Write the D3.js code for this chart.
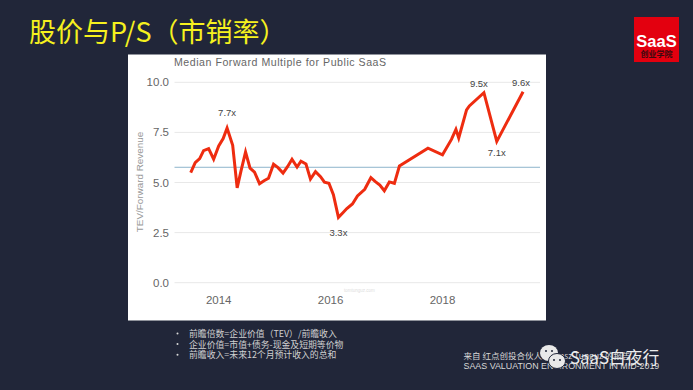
<!DOCTYPE html>
<html><head><meta charset="utf-8">
<script src="https://d3js.org/d3.v7.min.js"></script>
<style>html,body{margin:0;padding:0;background:#212639}svg{display:block}</style>
</head><body><svg id="c" width="693" height="390"></svg>
<script>
const years = [2013.50,2013.58,2013.66,2013.73,2013.82,2013.91,2014.00,2014.08,2014.15,2014.25,2014.33,2014.40,2014.48,2014.56,2014.64,2014.73,2014.81,2014.89,2014.98,2015.06,2015.15,2015.23,2015.31,2015.40,2015.47,2015.56,2015.64,2015.73,2015.82,2015.89,2015.97,2016.05,2016.14,2016.22,2016.29,2016.39,2016.48,2016.61,2016.72,2016.80,2016.88,2016.96,2017.05,2017.14,2017.23,2017.74,2018.00,2018.16,2018.24,2018.29,2018.43,2018.48,2018.74,2018.97,2019.44];
const multiples = [5.49,5.99,6.19,6.59,6.69,6.16,6.82,7.19,7.72,6.86,4.73,5.59,6.52,5.72,5.52,4.94,5.09,5.21,5.91,5.74,5.47,5.79,6.16,5.77,6.06,5.92,5.17,5.54,5.29,5.02,4.96,4.39,3.26,3.49,3.70,3.93,4.33,4.66,5.24,5.04,4.87,4.59,5.03,4.96,5.82,6.71,6.38,7.15,7.65,7.22,8.62,8.82,9.48,7.05,9.53];
const yTicks = [0,2.5,5,7.5,10];
const xTicks = [2014,2016,2018];
const median = 5.76;
const callouts = [["7.7x",2014.15,7.72,-12,0],["3.3x",2016.14,3.26,19,0],["9.5x",2018.74,9.48,-6,-5],["9.6x",2019.44,9.53,-6,-2],["7.1x",2018.97,7.05,15,0]];
const notes = ["前瞻倍数=企业价值（TEV）/前瞻收入","企业价值=市值+债务-现金及短期等价物","前瞻收入=未来12个月预计收入的总和"];
const source = ["来自 红点创投合伙人Tomasz Tunguz 的报告","SAAS VALUATION ENVIRONMENT IN MID-2019"];

const svg = d3.select("#c");
const cjk = "'Noto Sans CJK SC',sans-serif";
const sans = "'Liberation Sans',Arial,sans-serif";
const x = d3.scaleLinear().domain([2014,2018]).range([218.7,442.5]);
const y = d3.scaleLinear().domain([0,10]).range([282.7,82.3]);

svg.append("text").attr("x",29).attr("y",41.5).attr("font-family",cjk).attr("font-size",27).attr("fill","#f6f11e").text("股价与P/S（市销率）");

// logo
svg.append("rect").attr("x",634).attr("y",17).attr("width",45).attr("height",45).attr("fill","#e3000f");
svg.append("text").attr("x",656.5).attr("y",47).attr("text-anchor","middle").attr("font-family",sans).attr("font-weight",700).attr("font-size",16.5).attr("fill","#fff").text("SaaS");
svg.append("text").attr("x",656.5).attr("y",57).attr("text-anchor","middle").attr("font-family",cjk).attr("font-weight",700).attr("font-size",8).attr("fill","#3a0a10").text("创业学院");

// panel
svg.append("rect").attr("x",128).attr("y",54.5).attr("width",418).attr("height",266).attr("fill","#fff");
svg.append("text").attr("x",174).attr("y",66).attr("font-family",sans).attr("font-size",10.6).attr("letter-spacing",0.53).attr("fill","#666").text("Median Forward Multiple for Public SaaS");

const g = svg.append("g");
g.selectAll("line.grid").data(yTicks).join("line").attr("class","grid")
 .attr("x1",174.5).attr("x2",540).attr("y1",d=>y(d)).attr("y2",d=>y(d)).attr("stroke","#e8e8e8").attr("stroke-width",1);
g.selectAll("text.yt").data(yTicks).join("text").attr("class","yt")
 .attr("x",169).attr("y",d=>y(d)+4).attr("text-anchor","end").attr("font-family",sans).attr("font-size",11.5).attr("fill","#666").text(d=>d.toFixed(1));
g.selectAll("text.xt").data(xTicks).join("text").attr("class","xt")
 .attr("x",d=>x(d)).attr("y",304).attr("text-anchor","middle").attr("font-family",sans).attr("font-size",11.5).attr("fill","#666").text(d=>d);
svg.append("text").attr("transform","translate(143,182) rotate(-90)").attr("text-anchor","middle").attr("font-family",sans).attr("font-size",9.9).attr("fill","#999").text("TEV/Forward Revenue");
svg.append("text").attr("x",344).attr("y",292).attr("font-family",sans).attr("font-size",4.5).attr("fill","#ddd").text("tomtunguz.com");

g.append("line").attr("x1",174.5).attr("x2",540).attr("y1",y(median)).attr("y2",y(median)).attr("stroke","#8db4cc").attr("stroke-width",1);
const line = d3.line().x((d,i)=>x(years[i])).y(d=>y(d));
g.append("path").attr("d",line(multiples)).attr("fill","none").attr("stroke","#ee2c10").attr("stroke-width",3).attr("stroke-linejoin","miter");
g.selectAll("text.co").data(callouts).join("text").attr("class","co")
 .attr("x",d=>x(d[1])+d[4]).attr("y",d=>y(d[2])+d[3]).attr("text-anchor","middle").attr("font-family",sans).attr("font-size",9.5).attr("fill","#444").text(d=>d[0]);

// notes
notes.forEach((t,i)=>{
  const by=337+i*10.6;
  svg.append("circle").attr("cx",177.5).attr("cy",by-3.5).attr("r",1).attr("fill","#d8d8d8");
  svg.append("text").attr("x",189).attr("y",by).attr("font-family",cjk).attr("font-size",8.85).attr("fill","#d0d0d0").text(t);
});
source.forEach((t,i)=>{
  svg.append("text").attr("x",463.5).attr("y",359+i*10).attr("font-family",i?sans:cjk).attr("font-size",i?8.9:8.5).attr("fill","#d8d8d8").text(t);
});
// watermark
const wm = svg.append("g").attr("fill","#e9e9e9");
wm.append("ellipse").attr("cx",549).attr("cy",353).attr("rx",9).attr("ry",8);
wm.append("ellipse").attr("cx",557).attr("cy",361).attr("rx",8.5).attr("ry",7.5).attr("stroke","#212639").attr("stroke-width",1);
[[546,351],[552,351]].forEach(p=>wm.append("circle").attr("cx",p[0]).attr("cy",p[1]).attr("r",1).attr("fill","#212639"));
[[554,360],[560,360]].forEach(p=>wm.append("circle").attr("cx",p[0]).attr("cy",p[1]).attr("r",1).attr("fill","#212639"));
svg.append("text").attr("x",570).attr("y",364).attr("font-family",cjk).attr("font-size",16.8).attr("fill","#ececec").text("SaaS白夜行");
</script></body></html>
